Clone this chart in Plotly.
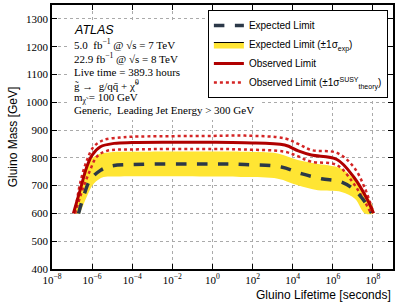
import plotly.graph_objects as go

# lifetimes [s] and gluino masses [GeV]
obsLife = [1.17e-7, 2.5e-7, 5.4e-7, 1e-6, 2.6e-6, 1.26e-5, 1e-4, 1e-2, 1, 40, 4000, 1.9e4, 8.5e4, 1.6e6, 1.1e7, 5e7, 1.07e8]
obsMass = [600, 683, 767, 810, 840, 852, 855, 856, 856, 854, 846, 825, 810, 794, 731, 653, 601]

obsUpLife = [1.4e-7, 2.5e-7, 5.4e-7, 1.2e-6, 3.7e-6, 2.5e-5, 1e-4, 1, 40, 4000, 1.9e4, 8.5e4, 1.6e6, 1.1e7, 4e7, 1.07e8]
obsUpMass = [600, 707, 790, 840, 864, 873, 876, 879, 880, 870, 850, 828, 818, 767, 690, 601]

obsDnLife = [1.4e-7, 3.7e-7, 7.9e-7, 1.7e-6, 5.4e-6, 1e-4, 1, 40, 4000, 1.9e4, 8.5e4, 1.6e6, 1.1e7, 3.4e7, 8e7]
obsDnMass = [600, 695, 755, 804, 825, 830, 832, 830, 822, 805, 786, 774, 707, 650, 601]

expLife = [2.1e-7, 3.7e-7, 7.9e-7, 2.6e-6, 8.3e-6, 1e-4, 1, 40, 2700, 2.7e4, 2.7e5, 2.7e6, 1.26e7, 4e7, 8.5e7]
expMass = [600, 660, 720, 755, 770, 776, 778, 776, 767, 743, 725, 713, 683, 641, 601]

bandUpLife = [1.4e-7, 3e-7, 6.6e-7, 1.7e-6, 7.9e-6, 1e-4, 1, 40, 1800, 1.8e4, 1.26e5, 2.7e6, 1.8e7, 8.5e7, 1.07e8]
bandUpMass = [600, 700, 780, 810, 820, 822, 823, 822, 816, 792, 780, 761, 707, 635, 601]

bandDnLife = [2.5e-7, 5.4e-7, 1.2e-6, 3.7e-6, 1.2e-5, 1, 40, 1800, 1.8e4, 1.8e5, 2.7e6, 1.26e7, 4e7]
bandDnMass = [600, 660, 707, 731, 733, 733, 731, 725, 701, 683, 677, 653, 600]

xTickVals = [1e-8, 1e-6, 1e-4, 1e-2, 1, 1e2, 1e4, 1e6, 1e8]
xTickText = ["10<sup>−8</sup>", "10<sup>−6</sup>", "10<sup>−4</sup>", "10<sup>−2</sup>", "10<sup>0</sup>",
             "10<sup>2</sup>", "10<sup>4</sup>", "10<sup>6</sup>", "10<sup>8</sup>"]
yTickVals = [400, 500, 600, 700, 800, 900, 1000, 1100, 1200, 1300]

infoLines = ["5.0  fb<sup>−1</sup> @ √s = 7 TeV",
             "22.9 fb<sup>−1</sup> @ √s = 8 TeV",
             "Live time = 389.3 hours",
             "g̃ →  g/qq̄ + χ̃<sup>0</sup>",
             "m<sub>χ̃</sub> = 100 GeV",
             "Generic,  Leading Jet Energy > 300 GeV"]

serif = "Liberation Serif"
sans = "Liberation Sans"
yellow = "#FFE533"
darkRed = "#B00000"
dotRed = "#D42424"
dashCol = "#2B3848"

fig = go.Figure()

# yellow band as a closed polygon
fig.add_trace(go.Scatter(x=bandUpLife + bandDnLife[::-1],
                         y=bandUpMass + bandDnMass[::-1],
                         fill='toself', fillcolor=yellow, mode='none',
                         line_shape='spline', showlegend=False, hoverinfo='skip'))

fig.add_trace(go.Scatter(x=obsUpLife, y=obsUpMass, mode='lines', line_shape='spline',
                         line=dict(color=dotRed, width=2.5, dash='dot'), showlegend=False))
fig.add_trace(go.Scatter(x=obsDnLife, y=obsDnMass, mode='lines', line_shape='spline',
                         line=dict(color=dotRed, width=2.5, dash='dot'), showlegend=False))
fig.add_trace(go.Scatter(x=expLife, y=expMass, mode='lines', line_shape='spline',
                         line=dict(color=dashCol, width=3.5, dash='dash'), showlegend=False))
fig.add_trace(go.Scatter(x=obsLife, y=obsMass, mode='lines', line_shape='spline',
                         line=dict(color=darkRed, width=3), showlegend=False))

# legend entries
fig.add_trace(go.Scatter(x=[None], y=[None], mode='lines', name="Expected Limit",
                         line=dict(color=dashCol, width=3.5, dash='dash')))
fig.add_trace(go.Scatter(x=[None], y=[None], mode='lines', fill='toself', fillcolor=yellow,
                         name="Expected Limit (±1σ<sub>exp</sub>)",
                         line=dict(color='black', width=1)))
fig.add_trace(go.Scatter(x=[None], y=[None], mode='lines', name="Observed Limit",
                         line=dict(color=darkRed, width=3)))
fig.add_trace(go.Scatter(x=[None], y=[None], mode='lines',
                         name="Observed Limit (±1σ<sup>SUSY</sup><sub>theory</sub>)",
                         line=dict(color=dotRed, width=2.5, dash='dot')))

# white box behind the text block hides the grid (no traces run through it)
fig.add_shape(type='rect', xref='paper', yref='paper', x0=0.047, x1=0.616, y0=0.564, y1=0.943,
              fillcolor='white', line_width=0, layer='above')

fig.add_annotation(x=0.059, y=0.905, xref='paper', yref='paper', xanchor='left', yanchor='middle',
                   text="<i>ATLAS</i>", showarrow=False, font=dict(family=sans, size=12.5, color='black'))
ys = [0.852, 0.799, 0.746, 0.697, 0.648, 0.602]
for txt, yy in zip(infoLines, ys):
    fig.add_annotation(x=0.059, y=yy, xref='paper', yref='paper', xanchor='left', yanchor='middle',
                       text=txt, showarrow=False, font=dict(family=serif, size=11, color='black'))

fig.add_annotation(x=1, y=-0.098, xref='paper', yref='paper', xanchor='right', yanchor='middle',
                   text="Gluino Lifetime [seconds]", showarrow=False,
                   font=dict(family=sans, size=12, color='black'))

fig.update_layout(
    width=399, height=306,
    margin=dict(l=52, r=6, t=5, b=37),
    paper_bgcolor='white', plot_bgcolor='white',
    font=dict(family=serif, size=11, color='black'),
    legend=dict(x=0.985, y=0.981, xanchor='right', yanchor='top',
                bgcolor='white', bordercolor='black', borderwidth=1,
                font=dict(family=sans, size=10), tracegroupgap=0, itemwidth=30),
)
fig.update_xaxes(type='log', range=[-8, 9], tickvals=xTickVals, ticktext=xTickText,
                 showline=True, linecolor='black', linewidth=1.5, mirror='ticks',
                 ticks='inside', ticklen=5, tickcolor='black', automargin=False,
                 showgrid=True, gridcolor='#aaaaaa', griddash='dot', gridwidth=1,
                 zeroline=False, tickfont=dict(family=serif, size=11))
fig.update_yaxes(range=[400, 1350], tickvals=yTickVals,
                 showline=True, linecolor='black', linewidth=1.5, mirror='ticks',
                 ticks='inside', ticklen=5, tickcolor='black', automargin=False,
                 showgrid=True, gridcolor='#aaaaaa', griddash='dot', gridwidth=1,
                 zeroline=False, tickfont=dict(family=serif, size=11),
                 title=dict(text="Gluino Mass [GeV]", font=dict(family=sans, size=12), standoff=6))

# page body has a default margin; drop it so the figure sits at the window origin
fig.write_html("out.html", config={'displayModeBar': False},
               post_script="document.body.style.margin='0';")
